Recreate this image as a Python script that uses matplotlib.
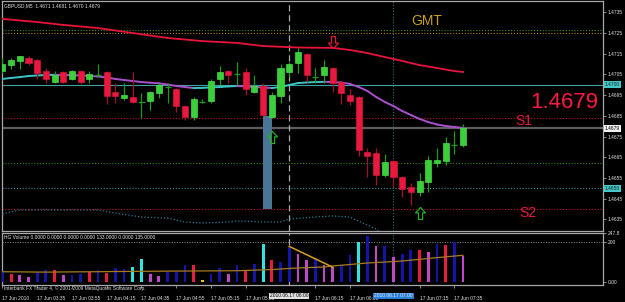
import matplotlib
matplotlib.use("Agg")
import matplotlib.pyplot as plt
from matplotlib.path import Path
from matplotlib.patches import Rectangle
from matplotlib.transforms import blended_transform_factory as blend

# GBPUSD M5, 17 Jun 2010 : one bar every 5 min from 03:15 to 07:40
opens = [1.47066, 1.47095, 1.47115, 1.47129, 1.47120, 1.47066, 1.47013, 1.47062, 1.47028, 1.47066,
         1.47028, 1.47047, 1.47062, 1.46965, 1.46936, 1.46941, 1.46917, 1.46921, 1.46960, 1.46989,
         1.46979, 1.46897, 1.46844, 1.46917, 1.46921, 1.47028, 1.47066, 1.47052, 1.47062, 1.46965,
         1.46994, 1.46844, 1.46946, 1.47062, 1.47105, 1.47149, 1.47037, 1.47047, 1.47081, 1.47013,
         1.46950, 1.46941, 1.46675, 1.46670, 1.46564, 1.46632, 1.46554, 1.46506, 1.46482, 1.46530,
         1.46622, 1.46632, 1.46709, 1.4671]
highs = [1.47129, 1.47129, 1.47139, 1.47139, 1.47124, 1.47081, 1.47066, 1.47066, 1.47071, 1.47071,
         1.47066, 1.47100, 1.47066, 1.47008, 1.47008, 1.47062, 1.46960, 1.46970, 1.47008, 1.47008,
         1.46984, 1.46902, 1.46941, 1.46931, 1.47028, 1.47091, 1.47071, 1.47110, 1.47081, 1.47047,
         1.47008, 1.46965, 1.47100, 1.47110, 1.47178, 1.47153, 1.47081, 1.47120, 1.47086, 1.47018,
         1.46979, 1.46946, 1.46694, 1.46694, 1.46665, 1.46636, 1.46559, 1.46525, 1.46574, 1.46656,
         1.46694, 1.46748, 1.46777, 1.4681]
lows = [1.47057, 1.47076, 1.47076, 1.47095, 1.47028, 1.47008, 1.47008, 1.47008, 1.47023, 1.47004,
        1.47008, 1.47037, 1.46907, 1.46912, 1.46926, 1.46912, 1.46839, 1.46878, 1.46936, 1.46912,
        1.46868, 1.46830, 1.46830, 1.46912, 1.46912, 1.46999, 1.47008, 1.46999, 1.46950, 1.46960,
        1.46849, 1.46839, 1.46912, 1.47037, 1.47057, 1.47013, 1.47008, 1.47008, 1.46965, 1.46907,
        1.46902, 1.46656, 1.46554, 1.46516, 1.46554, 1.46506, 1.46458, 1.46419, 1.46463, 1.46482,
        1.46603, 1.46612, 1.46665, 1.4670]
closes = [1.47100, 1.47120, 1.47139, 1.47105, 1.47057, 1.47028, 1.47047, 1.47013, 1.47066, 1.47013,
          1.47052, 1.47047, 1.46946, 1.46946, 1.46950, 1.46917, 1.46917, 1.46965, 1.46999, 1.46989,
          1.46897, 1.46844, 1.46931, 1.46917, 1.47018, 1.47062, 1.47047, 1.47052, 1.46979, 1.46994,
          1.46854, 1.46950, 1.47081, 1.47100, 1.47158, 1.47047, 1.47037, 1.47086, 1.47008, 1.46960,
          1.46921, 1.46685, 1.46656, 1.46564, 1.46627, 1.46554, 1.46496, 1.46482, 1.46535, 1.46636,
          1.46636, 1.46719, 1.46709, 1.4679]

# fast moving average (cyan when rising, violet when falling)
fast_ma = [1.47028, 1.47033, 1.47037, 1.47042, 1.47045, 1.47047, 1.47048, 1.47047, 1.47046, 1.47045,
           1.47043, 1.47040, 1.47035, 1.47028, 1.47023, 1.47018, 1.47013, 1.47010, 1.47007, 1.47001,
           1.46994, 1.46989, 1.46984, 1.46985, 1.46987, 1.46989, 1.46992, 1.46994, 1.46992, 1.46989,
           1.46987, 1.46984, 1.46989, 1.46999, 1.47008, 1.47011, 1.47013, 1.47014, 1.47013, 1.47011,
           1.47004, 1.46989, 1.46970, 1.46941, 1.46917, 1.46897, 1.46873, 1.46854, 1.46835, 1.46820,
           1.46808, 1.46801, 1.46796, 1.46791]
# slow moving average (red)
slow_bars = [0, 4, 7, 11, 15, 19, 23, 27, 30, 34, 38, 40, 42, 44, 46, 48, 50, 52, 53]
slow_ma = [1.47318, 1.47303, 1.47289, 1.47274, 1.47250, 1.47226, 1.47211, 1.47202, 1.47187, 1.47180,
           1.47178, 1.47168, 1.47153, 1.47134, 1.47115, 1.47095, 1.47081, 1.47066, 1.47062]
# lower band (dotted)
band_bars = [0, 2, 11, 13, 16, 19, 21, 23, 26, 27, 30, 32, 33, 36, 38, 40, 42, 43, 44]
band = [1.46376, 1.46395, 1.46395, 1.46380, 1.46361, 1.46356, 1.46337, 1.46332, 1.46337, 1.46342,
        1.46337, 1.46337, 1.46352, 1.46361, 1.46366, 1.46361, 1.46322, 1.46303, 1.46270]

# horizontal levels
lvl_green_top = 1.47264
lvl_orange_top = 1.4725
lvl_pivot = 1.4700
lvl_s1 = 1.4684
lvl_green_mid = 1.4662
lvl_teal = 1.4650
lvl_s2 = 1.4640

rect_bars = (30, 31)
rect_prices = (1.4640, 1.4685)
arrow_up_bars = [31, 48]
arrow_up_prices = [1.46748, 1.46380]
arrow_dn_bars = [38]
arrow_dn_prices = [1.47207]

# HG Volume sub window
volumes = [56, 40, 35, 24, 52, 60, 60, 35, 35, 43, 52, 60, 48, 72, 65, 77, 115, 43, 30, 52,
           52, 85, 85, 10, 43, 72, 43, 85, 60, 93, 190, 110, 102, 177, 143, 113, 120, 85, 77, 85,
           135, 202, 232, 180, 180, 127, 140, 163, 160, 152, 193, 185, 202, 133]
vol_kind = "brmmbbrmbbrbrbbccmmbbbrybbmbrbcrbbmmbmmbbcbmbmbbrmbrbm"
vol_ma_bars = [0, 5, 19, 27, 31, 34, 37, 38, 42, 46, 50, 53]
vol_ma = [52, 50, 55, 57, 63, 71, 76, 81, 96, 106, 123, 135]
trend_bars = [33, 38]
trend_vals = [180, 75]

price_ticks = [1.4635, 1.4645, 1.4655, 1.4665, 1.4675, 1.4685, 1.4695, 1.4705, 1.4715, 1.4725, 1.4735]
# 05:55 and 06:55 sit under the two highlighted date boxes and are not visible
time_bars = [0, 4, 8, 12, 16, 20, 24, 28, 36, 40, 48, 52]
time_labels = ["17 Jun 2010", "17 Jun 03:35", "17 Jun 03:55", "17 Jun 04:15", "17 Jun 04:35",
               "17 Jun 04:55", "17 Jun 05:15", "17 Jun 05:35", "17 Jun 06:15",
               "17 Jun 06:35", "17 Jun 07:15", "17 Jun 07:35"]

# ---------------------------------------------------------------------------
W, H = 625, 302
FONT = "Liberation Sans"
SMALL = 3.5
fig = plt.figure(figsize=(W / 100, H / 100), dpi=100, facecolor="black")


def box(x0, y0, x1, y1):
    # pixel box, origin top-left -> figure fraction
    return [x0 / W, 1 - y1 / H, (x1 - x0) / W, (y1 - y0) / H]


ax = fig.add_axes(box(2, 1, 603, 231), facecolor="black")
ax2 = fig.add_axes(box(2, 232.5, 603, 284.5), facecolor="black")
for a in (ax, ax2):
    a.set_xlim(-0.05, 69.11)
    for s in a.spines.values():
        s.set_color("#a8a8a8")
        s.set_linewidth(0.9)
    a.yaxis.tick_right()
    a.tick_params(axis="y", length=2, width=0.5, color="#c0c0c0", labelsize=SMALL,
                  labelcolor="#e0e0e0", pad=1.5)
ax.set_ylim(1.462935, 1.474046)
ax2.set_ylim(-12.5, 250)

# levels
dot = (0, (1, 1.6))
ax.axhline(lvl_green_top, color="#3f8f10", ls=dot, lw=0.8)
ax.axhline(lvl_orange_top, color="#c08020", ls=dot, lw=0.8)
ax.axhline(lvl_pivot, color="#3aa0a0", lw=0.8)
ax.axhline(lvl_s1, color="#c01030", ls=dot, lw=0.8)
ax.axhline(closes[-1], color="#5e5e5e", lw=1.6)
ax.axhline(lvl_green_mid, color="#2f8f10", ls=dot, lw=0.8)
ax.axhline(lvl_teal, color="#3090a8", ls=dot, lw=0.8)
ax.axhline(lvl_s2, color="#c01030", ls=dot, lw=0.8)

for a in (ax, ax2):
    a.axvline(33, color="#a8a8a8", ls=(0, (5, 3)), lw=0.9)
    a.axvline(45, color="#2a7080", ls=dot, lw=0.8)

ax.add_patch(Rectangle((rect_bars[0], rect_prices[0]), rect_bars[1] - rect_bars[0],
                       rect_prices[1] - rect_prices[0], fc="#4a7595", ec="none", zorder=2))

# moving averages and band
ax.plot(slow_bars, slow_ma, color="#e8143c", lw=1.3, zorder=3)
for i in range(1, len(fast_ma)):
    col = "#3cc4c4" if fast_ma[i] >= fast_ma[i - 1] else "#a850cc"
    ax.plot([i - 1, i], fast_ma[i - 1:i + 1], color=col, lw=1.4, solid_capstyle="round", zorder=3)
ax.plot(band_bars, band, color="#2a7a96", ls=dot, lw=0.9, zorder=3)

# candles
for i in range(len(opens)):
    o, h, l, c = opens[i], highs[i], lows[i], closes[i]
    up = c >= o
    ax.vlines(i, l, h, color="#1c9a1c" if up else "#a0102c", lw=0.9, zorder=4)
    if c == o:
        ax.hlines(o, i - 0.35, i + 0.35, color="#1c9a1c", lw=0.9, zorder=5)
    else:
        ax.bar(i, abs(c - o), bottom=min(o, c), width=0.7,
               color="#3ccf3c" if up else "#e8183e",
               ec="#52f052" if up else "#e8183e", lw=0.4, zorder=5)

# arrows
up_arrow = Path([(-0.17, -0.5), (0.17, -0.5), (0.17, 0.05), (0.42, 0.05), (0, 0.5),
                 (-0.42, 0.05), (-0.17, 0.05), (-0.17, -0.5)], closed=True)
dn_arrow = Path([(x, -y) for x, y in up_arrow.vertices], closed=True)
ax.plot(arrow_up_bars, arrow_up_prices, ls="none", marker=up_arrow, ms=8.6, mfc="none",
        mec="#22b022", mew=0.9, zorder=6)
ax.plot(arrow_dn_bars, arrow_dn_prices, ls="none", marker=dn_arrow, ms=8.6, mfc="none",
        mec="#e01838", mew=0.9, zorder=6)

# texts in main window
ax.text(0.004, 0.978, "GBPUSD,M5  %.4f %.4f %.4f %.4f" % (opens[-1], highs[-1], lows[-1], closes[-1]),
        transform=ax.transAxes, fontsize=SMALL, family=FONT, color="#e0e0e0", va="center")
ax.text(0.707, 0.896, "GMT", transform=ax.transAxes, fontsize=10, family=FONT,
        color="#c8a028", ha="center", va="baseline")
ax.text(0.9917, 0.535, "%.4f" % closes[-1], transform=ax.transAxes, fontsize=16, family=FONT,
        color="#ff1a40", ha="right", va="baseline")
ax.text(0.8536, 0.461, "S1", transform=ax.transAxes, fontsize=10, family=FONT,
        color="#e8183e", ha="left", va="baseline")
ax.text(0.860, 0.061, "S2", transform=ax.transAxes, fontsize=10, family=FONT,
        color="#e8183e", ha="left", va="baseline")

ax.set_xticks([])
ax.set_yticks(price_ticks)
ax.set_yticklabels(["%.4f" % p for p in price_ticks], family=FONT)
tr = blend(ax.transAxes, ax.transData)
for val, bg, fg in [(lvl_pivot, "#46c8c8", "#102020"), (closes[-1], "#f0f0f0", "#000000"),
                    (lvl_teal, "#46c8c8", "#102020")]:
    ax.text(1.003, val, "%.4f" % val, transform=tr, fontsize=SMALL, family=FONT, color=fg,
            ha="left", va="center", bbox=dict(fc=bg, ec="none", pad=0.7), clip_on=False)

# volume window
colors = {"b": "#1414a8", "m": "#c048c8", "r": "#e81c40", "c": "#30e4e4", "y": "#e0d000"}
ax2.bar(range(len(volumes)), volumes, width=0.32, color=[colors[k] for k in vol_kind], zorder=3)
ax2.plot(vol_ma_bars, vol_ma, color="#a87a20", lw=0.9, zorder=4)
ax2.plot(trend_bars, trend_vals, color="#d8a018", lw=1.1, zorder=4)
ax2.axhline(200, color="#8a8a8a", ls=dot, lw=0.7)
ax2.text(0.003, 0.905, "HG Volume 0.0000 0.0000 0.0000 0.0000 133.0000 0.0000 135.0000",
         transform=ax2.transAxes, fontsize=SMALL, family=FONT, color="#e0e0e0", va="center")
ax2.set_yticks([0, 200, 247.8])
ax2.set_yticklabels(["0.00", "200", "247.8"], family=FONT)
ax2.set_xticks(time_bars)
ax2.set_xticklabels(time_labels, family=FONT, fontsize=SMALL, color="#e0e0e0", ha="left")
ax2.tick_params(axis="x", length=2, width=0.5, color="#c0c0c0", pad=6.5)
trx = blend(ax2.transData, ax2.transAxes)
ax2.text(33, -0.22, "2010.06.17 06:00", transform=trx, fontsize=SMALL, family=FONT, color="#000000",
         ha="center", va="center", bbox=dict(fc="#e0e0e0", ec="none", pad=0.6), clip_on=False)
ax2.text(45, -0.22, "2010.06.17 07:00", transform=trx, fontsize=SMALL, family=FONT, color="#e8f0ff",
         ha="center", va="center", bbox=dict(fc="#2a80d8", ec="none", pad=0.6), clip_on=False)

fig.text(4 / W, 1 - 288 / H, "Interbank FX Trader 4, \u00a9 2001-2009 MetaQuotes Software Corp.",
         fontsize=SMALL, family=FONT, color="#e0e0e0", va="center")

fig.savefig("out.png", dpi=100, facecolor="black")
